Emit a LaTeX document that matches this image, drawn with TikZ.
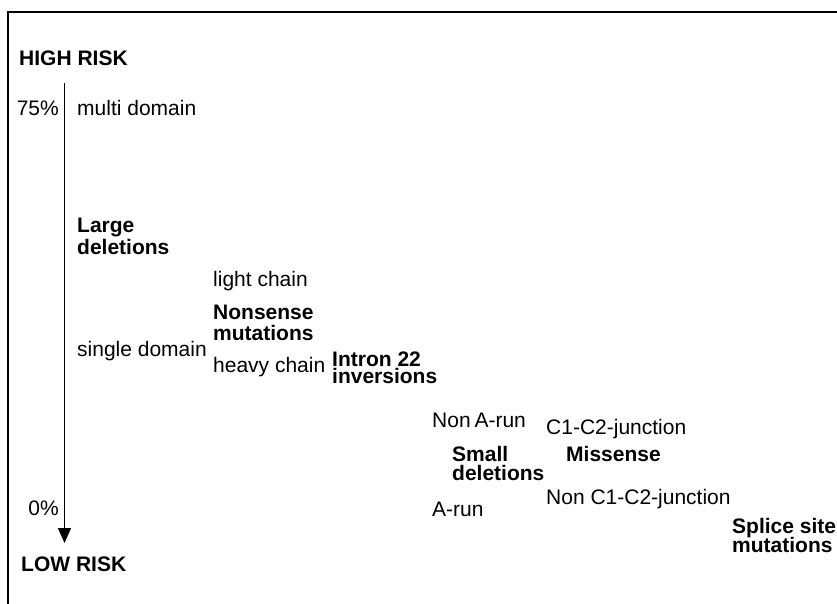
\documentclass[tikz,border=0pt]{standalone}
\usepackage{fontspec}
\setmainfont{Liberation Sans}
\usetikzlibrary{arrows.meta}

\begin{document}
\begin{tikzpicture}[x=1pt, y=-1pt,
        lbl/.style={anchor=base west, inner sep=0pt, font=\fontsize{21}{20}\selectfont},
        mut/.style={lbl, align=left, font=\fontsize{21}{20}\selectfont\bfseries}]
        \useasboundingbox (0,0) rectangle (837,604);
        % frame
        \draw[line width=2pt] (8,604) -- (8,12) -- (837,12);

        % risk axis
        \node[mut]                      (high)        at (19,66)   {HIGH RISK};
        \node[lbl, anchor=base east]    (pct75)       at (59,116)  {75\%};
        \node[lbl, anchor=base east]    (pct0)        at (59,515)  {0\%};
        \node[mut]                      (low)         at (21,571)  {LOW RISK};
        \coordinate (axis top)    at (64.5,83);
        \coordinate (axis bottom) at (64.5,543);
        \draw[line width=1.4pt, -{Triangle[length=15pt, width=13pt]}] (axis top) -- (axis bottom);

        % mutation classes (multi-line labels sit on their last baseline)
        \node[lbl]                      (multi)       at (77,116)  {multi domain};
        \node[mut]                      (large)       at (77,254)  {Large\\[2pt]deletions};
        \node[lbl]                      (single)      at (77,356)  {single domain};
        \node[lbl]                      (light)       at (213,286) {light chain};
        \node[mut]                      (nonsense)    at (213,340) {Nonsense\\[1pt]mutations};
        \node[lbl]                      (heavy)       at (213,372) {heavy chain};
        \node[mut]                      (intron)      at (332,383) {Intron 22\\[-3pt]inversions};
        \node[lbl]                      (nonarun)     at (432,427) {Non\kern-2pt\ A-run};
        \node[mut]                      (small)       at (452,480) {Small\\[-1.5pt]deletions};
        \node[lbl]                      (arun)        at (432,516) {A-run};
        \node[lbl]                      (junction)    at (546,434) {C1-C2-junction};
        \node[mut]                      (missense)    at (566,461.5) {Missense};
        \node[lbl]                      (nonjunction) at (546,504) {Non C1-C2-junction};
        \node[mut]                      (splice)      at (732,552) {Splice site\\[-1pt]mutations};
\end{tikzpicture}
\end{document}
